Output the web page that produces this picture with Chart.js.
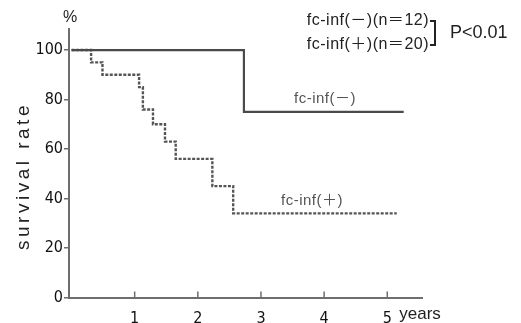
<!DOCTYPE html>
<html>
<head>
<meta charset="utf-8">
<script src="https://cdn.jsdelivr.net/npm/chart.js@4/dist/chart.umd.min.js"></script>
<style>
  html, body { margin: 0; padding: 0; background: #fff; }
  #wrap { width: 521px; height: 323px; }
</style>
</head>
<body>
<div id="wrap"><canvas id="chart"></canvas></div>
<script>
// survival curves (years, %)
const minusTimes = [0, 2.73, 5.26];
const minusRates = [100, 75, 75];
const plusTimes = [0, 0.31, 0.49, 1.07, 1.13, 1.29, 1.48, 1.65, 2.23, 2.56, 5.15];
const plusRates = [100, 95, 90, 85, 76, 70, 63, 56, 45, 34, 34];

const xTicks = [1, 2, 3, 4, 5];
const yTicks = [0, 20, 40, 60, 80, 100];

const legendLines = ['fc-inf(\uFF0D)(n\uFF1D12)', 'fc-inf(\uFF0B)(n\uFF1D20)'];
const pText = 'P<0.01';
const curveLabels = ['fc-inf(\uFF0D)', 'fc-inf(\uFF0B)'];

const toPoints = (xs, ys) => xs.map((x, i) => ({ x: x, y: ys[i] }));

const axisColor = '#6e6e6e';
const font = '"Liberation Sans", "Noto Sans CJK JP"';
const narrow = '"DejaVu Sans Condensed", "Liberation Sans", sans-serif';

const extras = {
    id: 'extras',
    afterDraw(chart) {
        const ctx = chart.ctx;
        const xs = chart.scales.x;
        const ys = chart.scales.y;
        ctx.save();

        // inward ticks on x axis
        ctx.strokeStyle = axisColor;
        ctx.lineWidth = 1.5;
        xTicks.forEach(t => {
            const px = xs.getPixelForValue(t);
            ctx.beginPath();
            ctx.moveTo(px, ys.bottom);
            ctx.lineTo(px, ys.bottom - 6);
            ctx.stroke();
        });

        ctx.fillStyle = '#222';
        ctx.font = '16px ' + font;
        ctx.textBaseline = 'middle';
        ctx.textAlign = 'center';
        ctx.fillText('%', 70, 18);

        ctx.textAlign = 'left';
        ctx.font = '17px ' + font;
        ctx.fillText('years', xs.getPixelForValue(5) + 12, 314);

        // y axis title
        ctx.save();
        ctx.translate(24, 176);
        ctx.rotate(-Math.PI / 2);
        ctx.textAlign = 'center';
        ctx.font = '19px ' + font;
        ctx.letterSpacing = '3.5px';
        ctx.fillText('survival rate', 0, 0);
        ctx.restore();

        // legend with bracket
        ctx.font = '16px ' + font;
        ctx.letterSpacing = '0.5px';
        ctx.textAlign = 'right';
        ctx.fillText(legendLines[0], 429, 21);
        ctx.fillText(legendLines[1], 429, 45);
        ctx.letterSpacing = '0px';
        ctx.strokeStyle = '#222';
        ctx.lineWidth = 2;
        ctx.beginPath();
        ctx.moveTo(430, 21);
        ctx.lineTo(435, 21);
        ctx.lineTo(435, 45);
        ctx.lineTo(430, 45);
        ctx.stroke();
        ctx.textAlign = 'left';
        ctx.font = '18px ' + font;
        ctx.fillText(pText, 450, 33);

        // curve labels
        ctx.fillStyle = '#555';
        ctx.font = '15px ' + font;
        ctx.letterSpacing = '0.5px';
        ctx.textAlign = 'center';
        ctx.fillText(curveLabels[0], 325, 99);
        ctx.fillText(curveLabels[1], 312, 201);
        ctx.restore();
    }
};

new Chart(document.getElementById('chart'), {
    type: 'line',
    data: {
        datasets: [
            {
                label: curveLabels[0],
                data: toPoints(minusTimes, minusRates),
                stepped: 'before',
                borderColor: '#4a4a4a',
                borderWidth: 2.2,
                pointRadius: 0,
                fill: false
            },
            {
                label: curveLabels[1],
                data: toPoints(plusTimes, plusRates),
                stepped: 'before',
                borderColor: '#555',
                borderWidth: 2.4,
                borderDash: [3, 1.5],
                pointRadius: 0,
                fill: false
            }
        ]
    },
    options: {
        responsive: true,
        maintainAspectRatio: false,
        animation: false,
        layout: { padding: { left: 0, right: 99, top: 29, bottom: 0 } },
        plugins: {
            legend: { display: false },
            tooltip: { enabled: false }
        },
        scales: {
            x: {
                type: 'linear',
                min: -0.04,
                max: 5.55,
                afterBuildTicks: (scale) => { scale.ticks = xTicks.map(v => ({ value: v })); },
                afterFit: (scale) => { scale.height = 25.5; },
                grid: { display: false },
                border: { color: axisColor, width: 2 },
                ticks: {
                    color: '#111',
                    padding: 4,
                    font: { family: narrow, size: 16 }
                }
            },
            y: {
                min: 0,
                max: 108.5,
                afterBuildTicks: (scale) => { scale.ticks = yTicks.map(v => ({ value: v })); },
                afterFit: (scale) => { scale.width = 69; },
                grid: { drawOnChartArea: false, drawTicks: true, tickLength: 5, color: axisColor, lineWidth: 1.5 },
                border: { color: axisColor, width: 2 },
                ticks: {
                    color: '#111',
                    padding: 1,
                    font: { family: narrow, size: 16 }
                }
            }
        }
    },
    plugins: [extras]
});
</script>
</body>
</html>
